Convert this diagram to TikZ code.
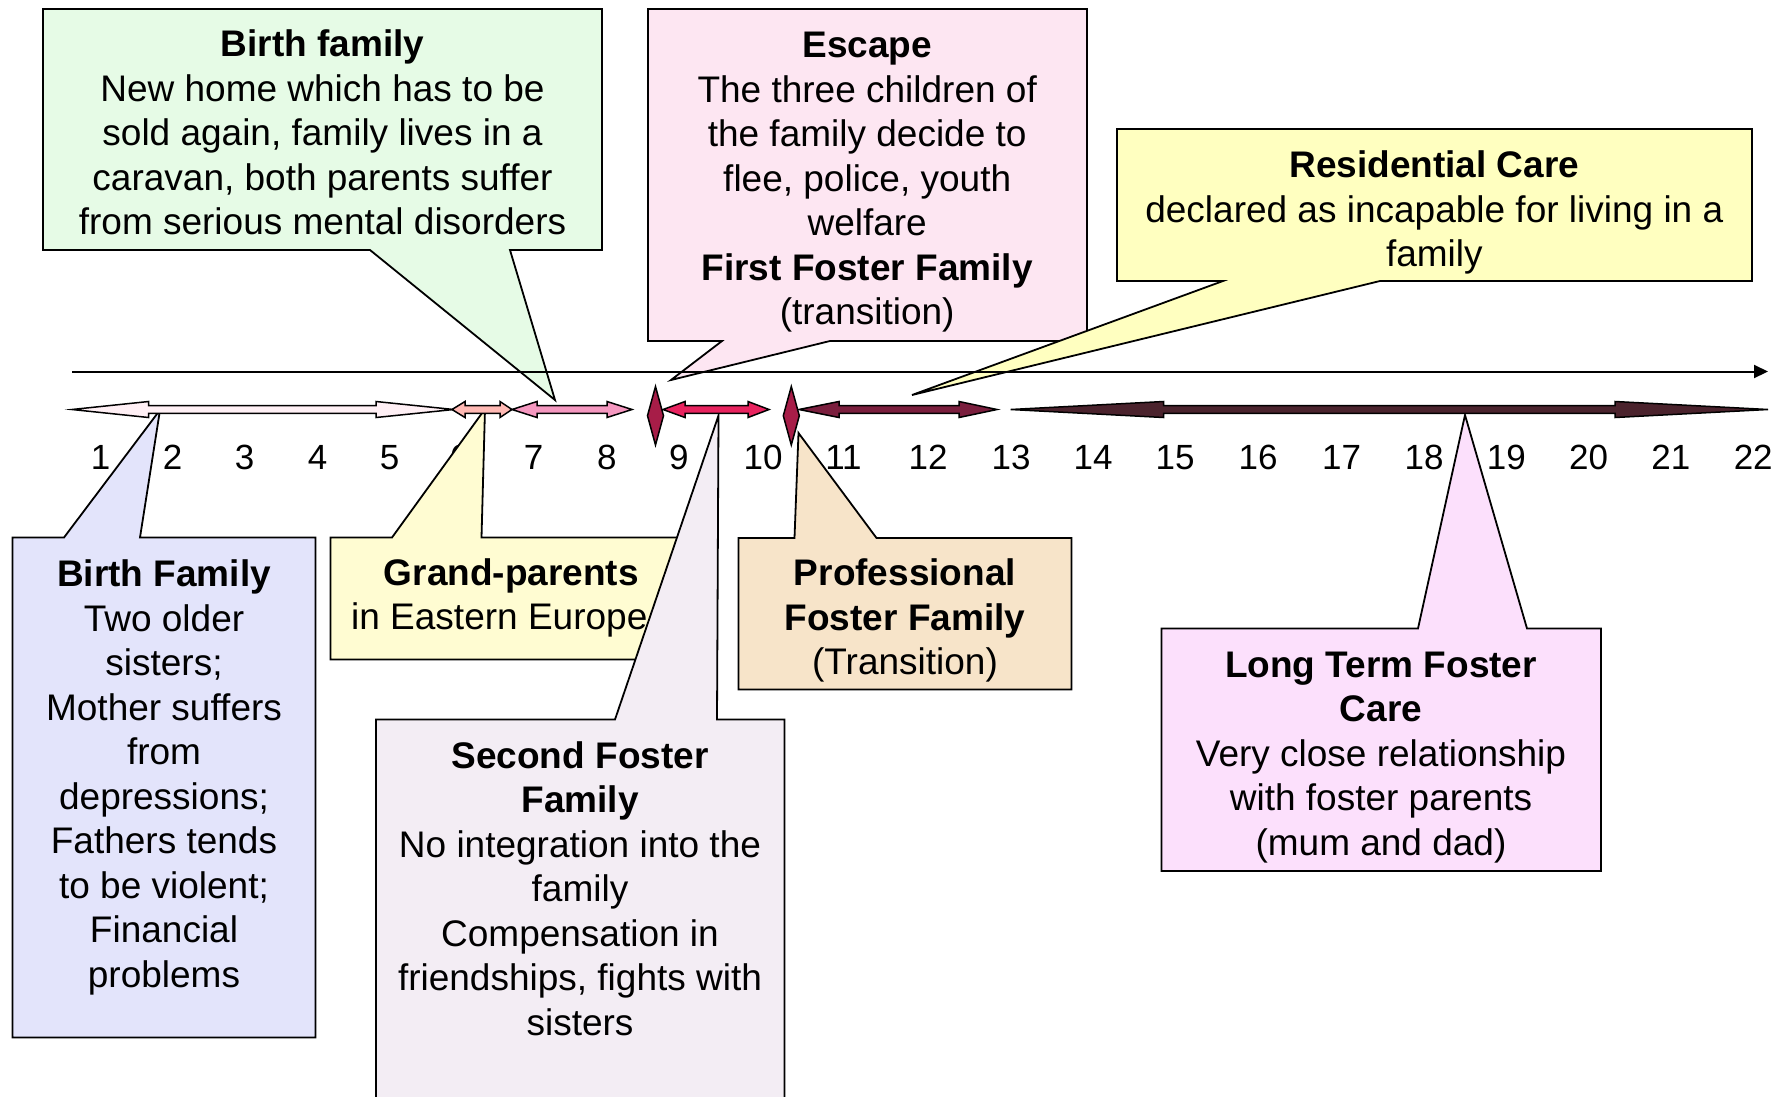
\documentclass[tikz,border=0pt]{standalone}
\usepackage{fontspec}
\setmainfont{Liberation Sans}
\usetikzlibrary{arrows.meta}
\definecolor{cgreen}{HTML}{E6FBE6}
\definecolor{cescape}{HTML}{FDE6F2}
\definecolor{cresid}{HTML}{FFFFC0}
\definecolor{cblue}{HTML}{E3E4FB}
\definecolor{cgrand}{HTML}{FFFCD2}
\definecolor{clav}{HTML}{F3EDF4}
\definecolor{cprof}{HTML}{F7E4C9}
\definecolor{clong}{HTML}{FCE0FC}
\definecolor{apale}{HTML}{FFF0F5}
\definecolor{asalmon}{HTML}{FFB9B4}
\definecolor{apink}{HTML}{F598C0}
\definecolor{ared}{HTML}{E8235F}
\definecolor{amaroon}{HTML}{7B1F3E}
\definecolor{adark}{HTML}{4B232D}
\definecolor{adiam}{HTML}{A71D48}
\newcommand{\dblarrow}[5]{%
  \filldraw[dbl, fill=#5] (#1,409.5) -- ({#1+#3},401.5) -- ({#1+#3},405.7) -- ({#2-#4},405.7) -- ({#2-#4},401.5) -- (#2,409.5) -- ({#2-#4},417.5) -- ({#2-#4},413.3) -- ({#1+#3},413.3) -- ({#1+#3},417.5) -- cycle;}
\newcommand{\diamondat}[1]{%
  \filldraw[dbl, fill=adiam] (#1,386.5) -- ({#1+8},415.7) -- (#1,445) -- ({#1-8},415.7) -- cycle;}
\begin{document}
\begin{tikzpicture}[x=1pt,y=-1pt,line join=miter,
  callout/.style={draw=black, line width=1.8pt},
  ctext/.style={anchor=north, inner sep=0pt, align=center, font=\fontsize{37}{44.5}\selectfont},
  num/.style={anchor=base, inner sep=0pt, font=\fontsize{35}{40}\selectfont},
  dbl/.style={draw=black, line width=1.5pt}]
\useasboundingbox (0,0) rectangle (1792,1096);
\clip (0,0) rectangle (1792,1096);

% numbers
\foreach \n/\x in {1/100.6,2/172.6,3/244.6,4/317.7,5/389.7,6/459.7,7/533.7,8/606.9,9/678.9,10/763,11/843.5,12/928,13/1011,14/1093,15/1175,16/1258,17/1341.7,18/1424,19/1506.3,20/1588.6,21/1670.9,22/1753.2}
  \node[num] (n\n) at (\x,469) {\n};

% tip coordinates
\coordinate (tipBlue) at (160,410);
\coordinate (tipGrand) at (485,409);
\coordinate (tipLav) at (718.5,415.5);
\coordinate (tipProf) at (798.5,433);
\coordinate (tipLong) at (1465,415);
\coordinate (tipGreen) at (555,400);
\coordinate (tipEsc) at (671,380);
\coordinate (tipRes) at (912,395);

% bottom callouts
\filldraw[callout, fill=cblue] (12.5,537.5) -- (64,537.5) -- (tipBlue) -- (140,537.5) -- (315.5,537.5) -- (315.5,1037.5) -- (12.5,1037.5) -- cycle;
\filldraw[callout, fill=cgrand] (330.5,537.5) -- (392,537.5) -- (tipGrand) -- (481.5,537.5) -- (682,537.5) -- (682,659.5) -- (330.5,659.5) -- cycle;
\filldraw[callout, fill=clav] (376,719.5) -- (615,719.5) -- (tipLav) -- (717,719.5) -- (784.5,719.5) -- (784.5,1110) -- (376,1110) -- cycle;
\filldraw[callout, fill=cprof] (738.5,538) -- (794.5,538) -- (tipProf) -- (876.5,538) -- (1071.5,538) -- (1071.5,689.5) -- (738.5,689.5) -- cycle;
\filldraw[callout, fill=clong] (1161.5,628.5) -- (1418,628.5) -- (tipLong) -- (1527,628.5) -- (1601,628.5) -- (1601,871) -- (1161.5,871) -- cycle;

% top callouts
\filldraw[callout, fill=cgreen] (43,9) -- (602,9) -- (602,250) -- (510,250) -- (tipGreen) -- (370,250) -- (43,250) -- cycle;
\filldraw[callout, fill=cescape] (648,9) -- (1087,9) -- (1087,341) -- (830,341) -- (tipEsc) -- (722,341) -- (648,341) -- cycle;
\filldraw[callout, fill=cresid] (1117,129) -- (1752,129) -- (1752,281) -- (1380,281) -- (tipRes) -- (1223,281) -- (1117,281) -- cycle;

% callout texts
\node[ctext] (tGreen) at (322.5,25.6) {\strut\textbf{Birth family}\\New home which has to be\\sold again, family lives in a\\caravan, both parents suffer\\from serious mental disorders};
\node[ctext] (tEsc) at (867.2,26.3) {\strut\textbf{Escape}\\The three children of\\the family decide to\\flee, police, youth\\welfare\\\textbf{First Foster Family}\\(transition)};
\node[ctext] (tRes) at (1434.3,146.3) {\strut\textbf{Residential Care}\\declared as incapable for living in a\\family};
\node[ctext] (tBlue) at (164,555.2) {\strut\textbf{Birth Family}\\Two older\\sisters;\\Mother suffers\\from\\depressions;\\Fathers tends\\to be violent;\\Financial\\problems};
\node[ctext] (tGrand) at (505.3,553.8) {\strut\hspace*{12pt}\textbf{Grand-parents}\\in Eastern Europe\hspace*{12pt}};
\node[ctext] (tLav) at (580,737) {\strut\textbf{Second Foster}\\\textbf{Family}\\No integration into the\\family\\Compensation in\\friendships, fights with\\sisters};
\node[ctext] (tProf) at (905,554.3) {\strut\textbf{Professional}\\\textbf{Foster Family}\\(Transition)};
\node[ctext] (tLong) at (1381,646) {\strut\textbf{Long Term Foster}\\\textbf{Care}\\Very close relationship\\with foster parents\\(mum and dad)};

% timeline
\coordinate (tl0) at (72,371.5);
\coordinate (tl1) at (1768,371.5);
\draw[line width=2pt, -{Triangle[length=14pt,width=13pt]}] (tl0) -- (tl1);

% period arrows
\dblarrow{72}{453.7}{76.6}{77.7}{apale}
\dblarrow{452}{512}{13}{12}{asalmon}
\dblarrow{512}{632}{25}{25}{apink}
\dblarrow{663}{769}{22}{21}{ared}
\dblarrow{799}{997}{40}{38}{amaroon}
\dblarrow{1010.7}{1768}{153}{153}{adark}
\diamondat{655.5}
\diamondat{791.3}
\end{tikzpicture}
\end{document}
